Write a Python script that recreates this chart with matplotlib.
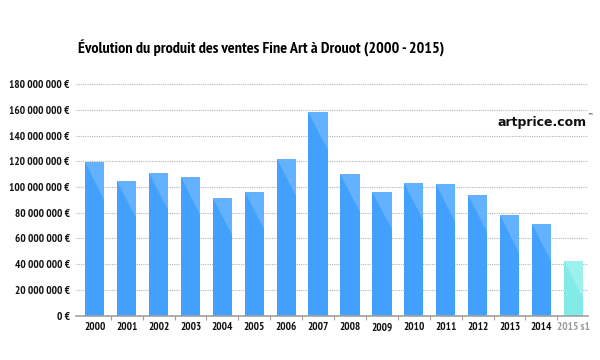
import numpy as np
import matplotlib.pyplot as plt
from matplotlib.ticker import FuncFormatter, MultipleLocator

# produit des ventes (millions d'euros)
years = ["2000", "2001", "2002", "2003", "2004", "2005", "2006", "2007",
         "2008", "2009", "2010", "2011", "2012", "2013", "2014", "2015 s1"]
sales = [119.2, 104.7, 110.9, 107.5, 91.4, 96.3, 121.8, 158.1,
         109.9, 96.1, 103.3, 102.1, 94.0, 78.0, 71.2, 42.4]
sales = [v * 1e6 for v in sales]

title = "Évolution du produit des ventes Fine Art à Drouot (2000 - 2015)"

FONT = ["PT Sans Narrow", "DejaVu Sans"]
plt.rcParams['font.family'] = FONT

BLUE = "#42a0ff"
BLUE_LIGHT = "#64b2ff"
CYAN = "#82ebe7"
CYAN_LIGHT = "#9df0ed"

fig = plt.figure(figsize=(6, 3.6), dpi=100)
ax = fig.add_axes([0.1267, 0.1236, 0.8533, 0.6424])

x = np.arange(len(years))
w = 0.605
colors = [BLUE] * (len(years) - 1) + [CYAN]
lights = [BLUE_LIGHT] * (len(years) - 1) + [CYAN_LIGHT]
ax.bar(x, sales, width=w, color=colors, zorder=2)

# reflet clair en haut de chaque barre
drop = 29e6
for xi, v, lc in zip(x, sales, lights):
    x0, x1 = xi - w / 2, xi + w / 2
    ax.fill([x0, x1, x1], [v, v, max(v - drop, 0)], color=lc, lw=0, zorder=3)

ax.set_xlim(-0.59, len(years) - 1 + 0.46)
ax.set_ylim(0, 180e6)
ax.yaxis.set_major_locator(MultipleLocator(20e6))

def euro(v, pos):
    s = "{:,.0f}".format(v).replace(",", " ")
    return s + " €"

ax.yaxis.set_major_formatter(FuncFormatter(euro))
ax.grid(axis="y", linestyle=(0, (1, 1)), color="#b5b5b5", linewidth=0.8, zorder=0)
ax.set_axisbelow(True)

for side in ["top", "right", "left"]:
    ax.spines[side].set_visible(False)
ax.spines["bottom"].set_color("#a0a0a0")
ax.spines["bottom"].set_linewidth(1.2)

ax.tick_params(axis="y", length=0, pad=4.5, labelsize=8)
ax.set_xticks(x)
ax.set_xticklabels(years)
ax.set_xticks(x[:-1] + 0.5, minor=True)
ax.tick_params(axis="x", which="major", length=0, pad=5, labelsize=8)
ax.tick_params(axis="x", which="minor", length=3, color="#a0a0a0", width=0.8)
for lab in ax.get_yticklabels() + ax.get_xticklabels():
    lab.set_fontweight("bold")
    lab.set_color("#111111")
ax.get_xticklabels()[-1].set_color("#9a9a9a")

fig.text(0.13, 0.866, title, fontsize=11.6, fontweight="bold", va="center", ha="left")
fig.text(0.977, 0.66, "artprice.com", fontsize=9, fontweight="heavy",
         ha="right", va="center", family="DejaVu Sans", color="#111111")
fig.text(0.979, 0.676, "™", fontsize=4, ha="left", va="center", family="DejaVu Sans")

fig.savefig("out.png", dpi=100)
